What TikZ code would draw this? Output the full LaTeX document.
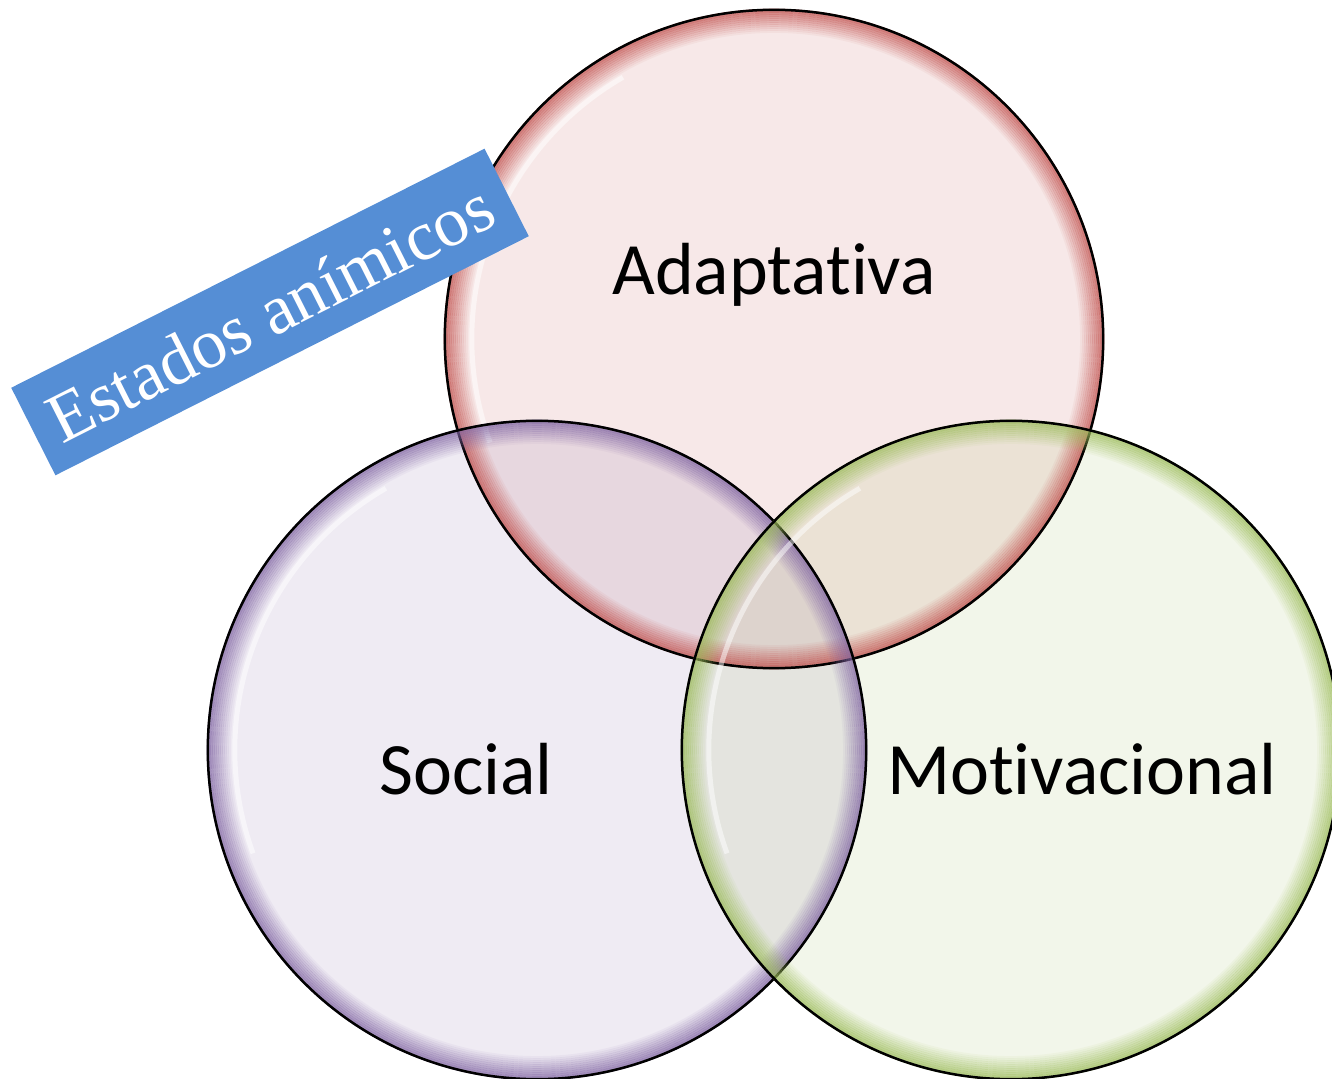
\documentclass[tikz,border=0pt]{standalone}
\usepackage{fontspec}
\newfontfamily\labelfont[Ligatures=NoCommon]{Carlito}
\newfontfamily\bannerfont{Liberation Serif}
\usetikzlibrary{positioning}
\definecolor{adaptRed}{HTML}{C0504D}
\definecolor{socialPurple}{HTML}{8064A2}
\definecolor{motivGreen}{HTML}{9BBB59}
\definecolor{bannerBlue}{HTML}{558ED5}
\tikzset{
  venn/.style={fill=#1, fill opacity=0.13},
  setlabel/.style={font=\labelfont\fontsize{21}{25}\selectfont, text=black, anchor=base},
}
\begin{document}
\begin{tikzpicture}[x=0.01cm, y=-0.01cm]
      \useasboundingbox (0,0) rectangle (1332,1079);
      \coordinate (cA) at (774,339);
      \coordinate (cS) at (537,750);
      \coordinate (cM) at (1011,750);
      % light fills
      \fill [venn=adaptRed] (cA) circle [radius=3.29cm];
      \fill [venn=socialPurple] (cS) circle [radius=3.29cm];
      \fill [venn=motivGreen] (cM) circle [radius=3.29cm];
      % darker rims
      \foreach \c/\col in {cA/adaptRed, cS/socialPurple, cM/motivGreen} {
        \foreach \i in {0,...,11}
          \draw [\col, line width=0.022cm, opacity={0.75*(1-\i/12)}]
            (\c) circle [radius=3.29cm-\i*0.02cm];
        \draw [white, line width=0.05cm, opacity=0.5]
          (\c) ++(120:3.02cm) arc (120:200:3.02cm);
        \draw [line width=0.025cm] (\c) circle [radius=3.29cm];
      }
      \node [setlabel] (adapt) at (774,295) {Adaptativa};
      \node [setlabel] (social) at (466,795) {Social};
      \node [setlabel] (motiv) at (1082,795) {Motivacional};
      \node [fill=bannerBlue, rotate=26.8, minimum width=5.3cm, minimum height=0.98cm,
             text=white, font=\bannerfont\fontsize{20}{24}\selectfont] (banner) at (270,312) {Estados anímicos};
    \end{tikzpicture}
\end{document}
